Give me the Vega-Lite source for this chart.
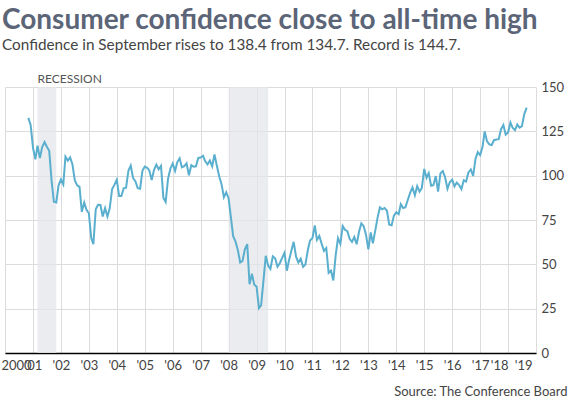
{
  "$schema": "https://vega.github.io/schema/vega-lite/v6.json",
  "autosize": {"type": "none"},
  "width": 531,
  "height": 266,
  "padding": {"left": 5, "top": 87, "right": 33, "bottom": 45},
  "background": "white",
  "config": {"font": "Lato", "view": {"stroke": null}, "axis": {"grid": true, "gridColor": "#dcdcdc", "gridOpacity": 1, "gridWidth": 1}},
  "title": {
    "text": "Consumer confidence close to all-time high",
    "subtitle": "Confidence in September rises to 138.4 from 134.7. Record is 144.7.",
    "anchor": "start",
    "frame": "group",
    "dx": -3,
    "offset": 20,
    "font": "Lato",
    "fontSize": 28,
    "fontWeight": "bold",
    "color": "#5b6577",
    "subtitleFont": "Lato",
    "subtitleFontSize": 15.3,
    "subtitleColor": "#444444",
    "subtitlePadding": 3
  },
  "layer": [
    {
      "data": {"values": [
        {"start": "2001-03-01", "end": "2001-11-01", "label": "RECESSION"},
        {"start": "2008-01-01", "end": "2009-06-01", "label": ""}
      ]},
      "mark": {"type": "rect", "color": "#e4e6ea", "opacity": 0.75},
      "encoding": {
        "x": {"field": "start", "type": "temporal"},
        "x2": {"field": "end"}
      }
    },
    {
      "data": {"values": [
        {"start": "2001-03-01", "label": "RECESSION"}
      ]},
      "mark": {"type": "text", "align": "left", "baseline": "bottom", "dy": -1, "font": "Lato", "fontSize": 12, "color": "#555555"},
      "encoding": {
        "x": {"field": "start", "type": "temporal"},
        "y": {"datum": 150, "type": "quantitative"},
        "text": {"field": "label"}
      }
    },
    {
      "data": {"values": [
      {"d": "2000-11-01", "v": 132.6}, {"d": "2000-12-01", "v": 128.6},
      {"d": "2001-01-01", "v": 115.7}, {"d": "2001-02-01", "v": 109.2}, {"d": "2001-03-01", "v": 116.9}, {"d": "2001-04-01", "v": 109.9}, {"d": "2001-05-01", "v": 116.1}, {"d": "2001-06-01", "v": 118.9}, {"d": "2001-07-01", "v": 116.3}, {"d": "2001-08-01", "v": 114.0}, {"d": "2001-09-01", "v": 97.0}, {"d": "2001-10-01", "v": 85.3}, {"d": "2001-11-01", "v": 84.9}, {"d": "2001-12-01", "v": 94.6},
      {"d": "2002-01-01", "v": 97.8}, {"d": "2002-02-01", "v": 95.0}, {"d": "2002-03-01", "v": 110.7}, {"d": "2002-04-01", "v": 108.5}, {"d": "2002-05-01", "v": 110.3}, {"d": "2002-06-01", "v": 106.3}, {"d": "2002-07-01", "v": 97.4}, {"d": "2002-08-01", "v": 94.5}, {"d": "2002-09-01", "v": 93.7}, {"d": "2002-10-01", "v": 79.6}, {"d": "2002-11-01", "v": 84.9}, {"d": "2002-12-01", "v": 80.7},
      {"d": "2003-01-01", "v": 78.8}, {"d": "2003-02-01", "v": 64.8}, {"d": "2003-03-01", "v": 61.4}, {"d": "2003-04-01", "v": 81.0}, {"d": "2003-05-01", "v": 83.6}, {"d": "2003-06-01", "v": 83.5}, {"d": "2003-07-01", "v": 77.0}, {"d": "2003-08-01", "v": 81.7}, {"d": "2003-09-01", "v": 77.0}, {"d": "2003-10-01", "v": 81.7}, {"d": "2003-11-01", "v": 92.5}, {"d": "2003-12-01", "v": 94.8},
      {"d": "2004-01-01", "v": 97.7}, {"d": "2004-02-01", "v": 88.5}, {"d": "2004-03-01", "v": 88.5}, {"d": "2004-04-01", "v": 93.0}, {"d": "2004-05-01", "v": 93.1}, {"d": "2004-06-01", "v": 102.8}, {"d": "2004-07-01", "v": 105.7}, {"d": "2004-08-01", "v": 98.7}, {"d": "2004-09-01", "v": 96.7}, {"d": "2004-10-01", "v": 92.9}, {"d": "2004-11-01", "v": 92.6}, {"d": "2004-12-01", "v": 102.7},
      {"d": "2005-01-01", "v": 105.1}, {"d": "2005-02-01", "v": 104.4}, {"d": "2005-03-01", "v": 103.0}, {"d": "2005-04-01", "v": 97.5}, {"d": "2005-05-01", "v": 103.1}, {"d": "2005-06-01", "v": 106.2}, {"d": "2005-07-01", "v": 103.6}, {"d": "2005-08-01", "v": 105.5}, {"d": "2005-09-01", "v": 87.5}, {"d": "2005-10-01", "v": 85.2}, {"d": "2005-11-01", "v": 98.3}, {"d": "2005-12-01", "v": 103.8},
      {"d": "2006-01-01", "v": 106.8}, {"d": "2006-02-01", "v": 102.7}, {"d": "2006-03-01", "v": 107.5}, {"d": "2006-04-01", "v": 109.8}, {"d": "2006-05-01", "v": 104.7}, {"d": "2006-06-01", "v": 105.4}, {"d": "2006-07-01", "v": 107.0}, {"d": "2006-08-01", "v": 100.2}, {"d": "2006-09-01", "v": 105.9}, {"d": "2006-10-01", "v": 105.1}, {"d": "2006-11-01", "v": 105.3}, {"d": "2006-12-01", "v": 110.0},
      {"d": "2007-01-01", "v": 110.2}, {"d": "2007-02-01", "v": 111.2}, {"d": "2007-03-01", "v": 108.2}, {"d": "2007-04-01", "v": 106.3}, {"d": "2007-05-01", "v": 108.5}, {"d": "2007-06-01", "v": 105.3}, {"d": "2007-07-01", "v": 111.9}, {"d": "2007-08-01", "v": 105.6}, {"d": "2007-09-01", "v": 99.5}, {"d": "2007-10-01", "v": 95.2}, {"d": "2007-11-01", "v": 87.8}, {"d": "2007-12-01", "v": 90.6},
      {"d": "2008-01-01", "v": 87.3}, {"d": "2008-02-01", "v": 76.4}, {"d": "2008-03-01", "v": 65.9}, {"d": "2008-04-01", "v": 62.8}, {"d": "2008-05-01", "v": 58.1}, {"d": "2008-06-01", "v": 51.0}, {"d": "2008-07-01", "v": 51.9}, {"d": "2008-08-01", "v": 58.5}, {"d": "2008-09-01", "v": 61.4}, {"d": "2008-10-01", "v": 38.8}, {"d": "2008-11-01", "v": 44.7}, {"d": "2008-12-01", "v": 38.6},
      {"d": "2009-01-01", "v": 37.4}, {"d": "2009-02-01", "v": 25.3}, {"d": "2009-03-01", "v": 26.9}, {"d": "2009-04-01", "v": 40.8}, {"d": "2009-05-01", "v": 54.8}, {"d": "2009-06-01", "v": 49.3}, {"d": "2009-07-01", "v": 47.4}, {"d": "2009-08-01", "v": 54.5}, {"d": "2009-09-01", "v": 53.4}, {"d": "2009-10-01", "v": 48.7}, {"d": "2009-11-01", "v": 50.6}, {"d": "2009-12-01", "v": 53.6},
      {"d": "2010-01-01", "v": 56.5}, {"d": "2010-02-01", "v": 46.4}, {"d": "2010-03-01", "v": 52.3}, {"d": "2010-04-01", "v": 57.7}, {"d": "2010-05-01", "v": 62.7}, {"d": "2010-06-01", "v": 54.3}, {"d": "2010-07-01", "v": 51.0}, {"d": "2010-08-01", "v": 53.2}, {"d": "2010-09-01", "v": 48.6}, {"d": "2010-10-01", "v": 49.9}, {"d": "2010-11-01", "v": 57.8}, {"d": "2010-12-01", "v": 63.4},
      {"d": "2011-01-01", "v": 64.8}, {"d": "2011-02-01", "v": 72.0}, {"d": "2011-03-01", "v": 63.8}, {"d": "2011-04-01", "v": 66.0}, {"d": "2011-05-01", "v": 61.7}, {"d": "2011-06-01", "v": 57.6}, {"d": "2011-07-01", "v": 59.2}, {"d": "2011-08-01", "v": 45.2}, {"d": "2011-09-01", "v": 46.4}, {"d": "2011-10-01", "v": 40.9}, {"d": "2011-11-01", "v": 55.2}, {"d": "2011-12-01", "v": 64.8},
      {"d": "2012-01-01", "v": 61.5}, {"d": "2012-02-01", "v": 71.6}, {"d": "2012-03-01", "v": 69.5}, {"d": "2012-04-01", "v": 68.7}, {"d": "2012-05-01", "v": 64.4}, {"d": "2012-06-01", "v": 62.7}, {"d": "2012-07-01", "v": 65.4}, {"d": "2012-08-01", "v": 61.3}, {"d": "2012-09-01", "v": 68.4}, {"d": "2012-10-01", "v": 73.1}, {"d": "2012-11-01", "v": 71.5}, {"d": "2012-12-01", "v": 66.7},
      {"d": "2013-01-01", "v": 58.4}, {"d": "2013-02-01", "v": 68.0}, {"d": "2013-03-01", "v": 61.9}, {"d": "2013-04-01", "v": 69.0}, {"d": "2013-05-01", "v": 76.2}, {"d": "2013-06-01", "v": 82.1}, {"d": "2013-07-01", "v": 81.0}, {"d": "2013-08-01", "v": 81.8}, {"d": "2013-09-01", "v": 80.2}, {"d": "2013-10-01", "v": 72.4}, {"d": "2013-11-01", "v": 72.0}, {"d": "2013-12-01", "v": 77.5},
      {"d": "2014-01-01", "v": 79.4}, {"d": "2014-02-01", "v": 78.3}, {"d": "2014-03-01", "v": 83.9}, {"d": "2014-04-01", "v": 81.7}, {"d": "2014-05-01", "v": 82.2}, {"d": "2014-06-01", "v": 86.4}, {"d": "2014-07-01", "v": 90.3}, {"d": "2014-08-01", "v": 93.4}, {"d": "2014-09-01", "v": 89.0}, {"d": "2014-10-01", "v": 94.1}, {"d": "2014-11-01", "v": 91.0}, {"d": "2014-12-01", "v": 93.1},
      {"d": "2015-01-01", "v": 103.8}, {"d": "2015-02-01", "v": 98.8}, {"d": "2015-03-01", "v": 101.4}, {"d": "2015-04-01", "v": 94.3}, {"d": "2015-05-01", "v": 94.6}, {"d": "2015-06-01", "v": 99.8}, {"d": "2015-07-01", "v": 91.0}, {"d": "2015-08-01", "v": 101.3}, {"d": "2015-09-01", "v": 102.6}, {"d": "2015-10-01", "v": 99.1}, {"d": "2015-11-01", "v": 92.6}, {"d": "2015-12-01", "v": 96.3},
      {"d": "2016-01-01", "v": 97.8}, {"d": "2016-02-01", "v": 94.0}, {"d": "2016-03-01", "v": 96.1}, {"d": "2016-04-01", "v": 94.7}, {"d": "2016-05-01", "v": 92.4}, {"d": "2016-06-01", "v": 97.4}, {"d": "2016-07-01", "v": 96.7}, {"d": "2016-08-01", "v": 101.8}, {"d": "2016-09-01", "v": 103.5}, {"d": "2016-10-01", "v": 99.8}, {"d": "2016-11-01", "v": 109.4}, {"d": "2016-12-01", "v": 113.3},
      {"d": "2017-01-01", "v": 111.6}, {"d": "2017-02-01", "v": 116.1}, {"d": "2017-03-01", "v": 124.9}, {"d": "2017-04-01", "v": 119.4}, {"d": "2017-05-01", "v": 117.6}, {"d": "2017-06-01", "v": 117.3}, {"d": "2017-07-01", "v": 120.0}, {"d": "2017-08-01", "v": 120.4}, {"d": "2017-09-01", "v": 120.6}, {"d": "2017-10-01", "v": 126.2}, {"d": "2017-11-01", "v": 128.6}, {"d": "2017-12-01", "v": 123.1},
      {"d": "2018-01-01", "v": 124.3}, {"d": "2018-02-01", "v": 130.0}, {"d": "2018-03-01", "v": 127.0}, {"d": "2018-04-01", "v": 125.6}, {"d": "2018-05-01", "v": 128.8}, {"d": "2018-06-01", "v": 127.1}, {"d": "2018-07-01", "v": 127.9}, {"d": "2018-08-01", "v": 134.7}, {"d": "2018-09-01", "v": 138.4}
      ]},
      "mark": {"type": "line", "color": "#5aafcf", "strokeWidth": 2},
      "encoding": {
        "x": {
          "field": "d",
          "type": "temporal",
          "scale": {"domain": ["2000-01-01", "2019-01-01"], "nice": false},
          "axis": {
            "tickCount": {"interval": "year", "step": 1},
            "labelExpr": "year(datum.value) == 2000 ? '2000' : \"'\" + timeFormat(datum.value, '%y')",
            "labelOverlap": false,
            "labelBound": false,
            "labelAlign": {"condition": [{"test": "year(datum.value) == 2000", "value": "left"}, {"test": "year(datum.value) >= 2018", "value": "right"}], "value": "center"},
            "labelOffset": {"condition": {"test": "year(datum.value) == 2000 || year(datum.value) == 2019", "value": -4}, "value": 0},
            "labelFont": "Lato",
            "labelFontSize": 13,
            "labelColor": "#444444",
            "labelPadding": 6,
            "ticks": false,
            "domain": true,
            "domainColor": "#000000",
            "domainWidth": 1.5,
            "grid": true,
            "title": "Source: The Conference Board",
            "titleAnchor": "end",
            "titleAlign": "right",
            "titleBaseline": "alphabetic",
            "titleX": 562,
            "titleY": 42,
            "titleFont": "Lato",
            "titleFontSize": 13,
            "titleFontWeight": "normal",
            "titleColor": "#444444"
          }
        },
        "y": {
          "field": "v",
          "type": "quantitative",
          "scale": {"domain": [0, 150], "nice": false},
          "axis": {
            "orient": "right",
            "values": [0, 25, 50, 75, 100, 125, 150],
            "labelFont": "Lato",
            "labelFontSize": 13,
            "labelColor": "#444444",
            "labelPadding": 5,
            "ticks": false,
            "domain": false,
            "grid": true,
            "title": null
          }
        }
      }
    }
  ]
}
